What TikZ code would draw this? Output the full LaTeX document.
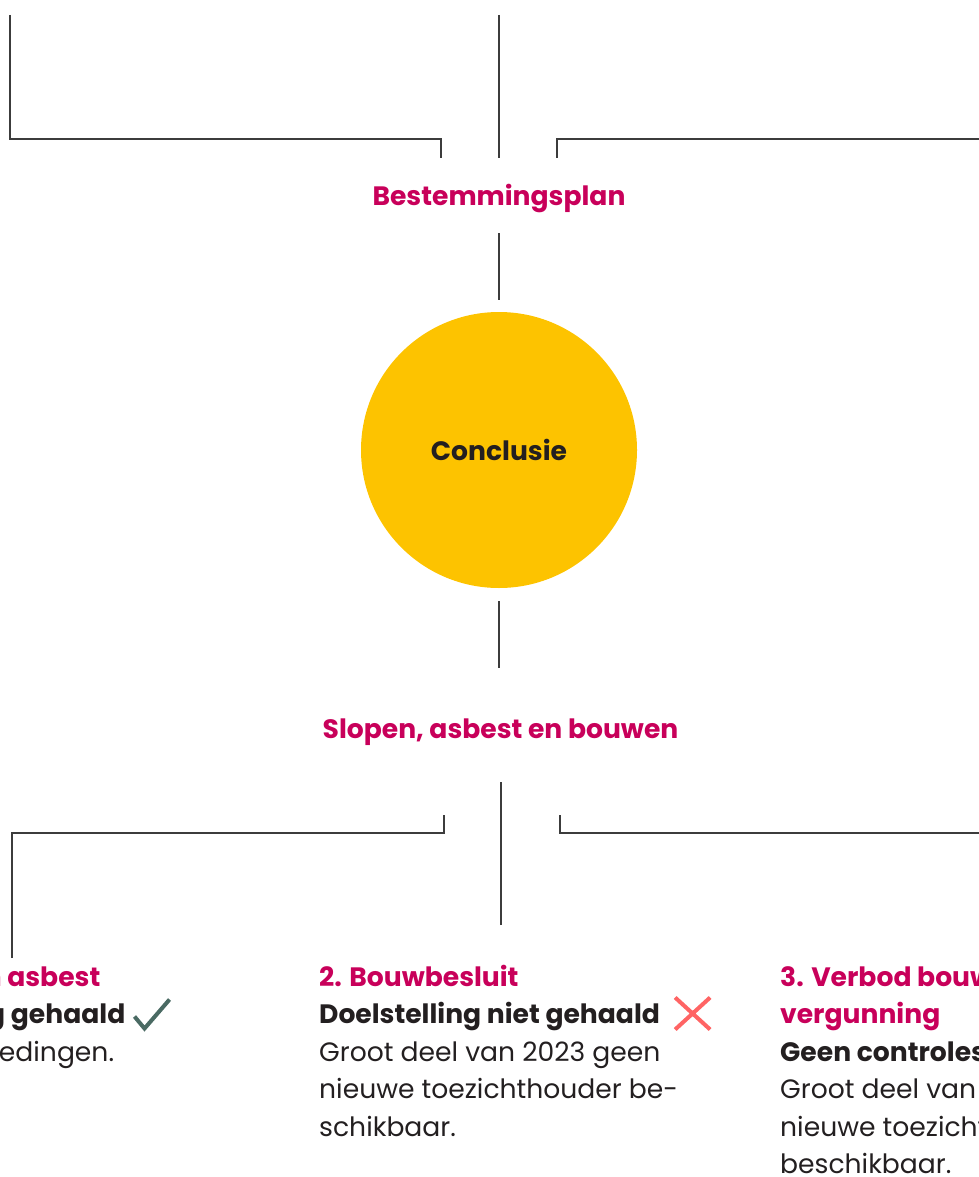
\documentclass[tikz,border=0pt]{standalone}
\usepackage{fontspec}
\setmainfont{Poppins}[BoldFont={Poppins Bold}]
\usepackage{xcolor}
\usepackage{tikz}
\usetikzlibrary{positioning}
\definecolor{roze}{RGB}{200,0,90}
\definecolor{geel}{RGB}{253,195,0}
\definecolor{donker}{RGB}{35,31,32}
\definecolor{lijngrijs}{RGB}{60,60,60}
\definecolor{vinkgroen}{RGB}{74,106,99}
\definecolor{kruisrood}{RGB}{255,100,100}
\tikzstyle{kop} = [text=roze, font=\fontsize{26.6}{37.5}\selectfont\bfseries, inner sep=0pt, align=left]
\tikzstyle{status} = [text=donker, font=\fontsize{26.6}{37.5}\selectfont\bfseries, inner sep=0pt, anchor=base west]
\tikzstyle{tekst} = [text=donker, font=\fontsize{26.6}{37.5}\selectfont, inner sep=0pt, align=left, anchor=base west]
\tikzstyle{lijn} = [draw=lijngrijs, line width=1.3pt]

\begin{document}
\begin{tikzpicture}[x=1pt, y=-1pt]
  \useasboundingbox (0, 0) rectangle (979, 1177);
  \clip (0, 0) rectangle (979, 1177);

  \node[kop, anchor=base] at (499, 205) (plan) {Bestemmingsplan};
  \node[circle, fill=geel, minimum size=276pt, inner sep=0pt, text=donker,
    font=\fontsize{26.6}{30}\selectfont\bfseries] at (499, 450) (conc) {Conclusie};
  \node[kop, anchor=base] at (500.5, 738) (slopen) {Slopen, asbest en bouwen};

  % bovenkant
  \coordinate (lb) at (10, 15);
  \coordinate (mb) at (499, 15);
  \coordinate (rb) at (990, 139);
  \draw[lijn] (lb) |- (441, 139) -- (441, 158);
  \draw[lijn] (mb) -- ([yshift=47pt]plan.base);
  \draw[lijn] (rb) -- (557, 139) -- (557, 158);

  \draw[lijn] ([yshift=-28pt]plan.base) -- ([yshift=12pt]conc.north);
  \draw[lijn] ([yshift=-13pt]conc.south) -- ++(0, 67);

  % onderkant
  \coordinate (lo) at (12, 958);
  \coordinate (mo) at (501, 925);
  \coordinate (ro) at (990, 833);
  \draw[lijn] (lo) |- (444, 833) -- (444, 815);
  \draw[lijn] (mo) -- (501, 782);
  \draw[lijn] (ro) -- (560, 833) -- (560, 815);

  % kolom 1
  \node[kop, anchor=base west] at (-157, 986) (k1) {1. Slopen en asbest};
  \node[status] at (-157, 1023.5) (s1) {Doelstelling gehaald};
  \node[tekst] at (-157, 1061) (t1) {Geen overtredingen.};
  \draw[draw=vinkgroen, line width=4pt] (s1.base east) ++(9, -7) -- ++(10, 12) -- ++(25, -29);

  % kolom 2 (base = laatste regel)
  \node[kop, anchor=base west] at (319, 986) (k2) {2. Bouwbesluit};
  \node[status] at (319, 1023.5) (s2) {Doelstelling niet gehaald};
  \node[tekst] at (319, 1136) (t2) {Groot deel van 2023 geen\\nieuwe toezichthouder be-\\schikbaar.};
  \draw[draw=kruisrood, line width=4pt] (s2.base east) ++(15, -26) -- ++(35, 32) ++(0, -32) -- ++(-35, 32);

  % kolom 3
  \node[kop, anchor=base west] at (780, 1023.5) (k3) {3. Verbod bouwen zonder\\vergunning};
  \node[status] at (780, 1061) (s3) {Geen controles uitgevoerd};
  \node[tekst] at (780, 1173.5) (t3) {Groot deel van 2023 geen\\nieuwe toezichthouder\\beschikbaar.};

\end{tikzpicture}
\end{document}
